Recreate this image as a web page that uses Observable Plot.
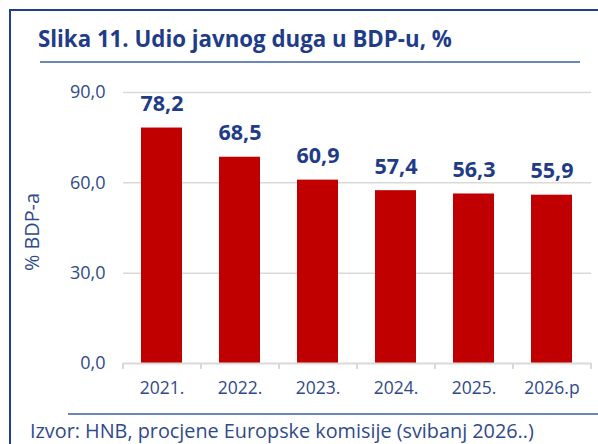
<!DOCTYPE html>
<html><head><meta charset="utf-8">
<script src="https://cdn.jsdelivr.net/npm/d3@7"></script>
<script src="https://cdn.jsdelivr.net/npm/@observablehq/plot@0.6"></script>
<style>
html,body{margin:0;padding:0;background:#fff;}
#wrap{position:relative;width:598px;height:444px;overflow:hidden;background:#fff;}
#chart{position:absolute;left:0;top:0;}
#deco{position:absolute;left:0;top:0;}
</style></head><body>
<div id="wrap"><div id="chart"></div><svg id="deco" width="598" height="444"></svg></div>
<script>
const titleText = "Slika 11. Udio javnog duga u BDP-u, %";
const sourceText = "Izvor: HNB, procjene Europske komisije (svibanj 2026..)";
const yAxisLabel = "% BDP-a";
const years = ["2021.", "2022.", "2023.", "2024.", "2025.", "2026.p"];
const debt = [78.2, 68.5, 60.9, 57.4, 56.3, 55.9];
const yTicks = [0, 30, 60, 90];

const fmt = v => v.toFixed(1).replace(".", ",");
const data = years.map((y, i) => ({year: y, value: debt[i]}));

const W = 598, H = 444, mL = 123, mR = 7, mT = 92, mB = 81;
const step = (W - mL - mR) / years.length;
const blue = "#1f3c88", tickBlue = "#2f4a8c", red = "#c00000", grid = "#d9d9d9";
const font = "'Open Sans', sans-serif";

const plot = Plot.plot({
  width: W, height: H,
  marginLeft: mL, marginRight: mR, marginTop: mT, marginBottom: mB,
  style: {fontFamily: font, background: "transparent", color: tickBlue},
  x: {domain: years, paddingInner: 0.474, paddingOuter: 0.237, axis: null},
  y: {domain: [0, 90], axis: null},
  marks: [
    Plot.ruleY(yTicks.filter(d => d > 0), {stroke: grid, strokeWidth: 1.5}),
    Plot.barY(data, {x: "year", y: "value", fill: red}),
    Plot.ruleY([0], {stroke: grid, strokeWidth: 2}),
    Plot.ruleX(years, {x: d => d, y1: 0, y2: 0, dx: -step / 2, insetBottom: -6, stroke: grid, strokeWidth: 2}),
    Plot.ruleX(years.slice(-1), {x: d => d, y1: 0, y2: 0, dx: step / 2, insetBottom: -6, stroke: grid, strokeWidth: 2}),
    Plot.text(data, {x: "year", y: "value", text: d => fmt(d.value), dy: -17, lineAnchor: "bottom",
      fill: blue, fontWeight: "bold", fontSize: 21.5}),
    Plot.axisY({ticks: yTicks, tickFormat: fmt, tickSize: 0, tickPadding: 18, label: null, fontSize: 18}),
    Plot.axisX({tickSize: 0, tickPadding: 18, label: null, fontSize: 17.5})
  ]
});
document.getElementById("chart").appendChild(plot);

const deco = d3.select("#deco");
deco.append("path").attr("d", "M10,444V10H598").attr("fill", "none").attr("stroke", "#1f3f8f").attr("stroke-width", 2);
deco.append("line").attr("x1", 40).attr("x2", 580).attr("y1", 62).attr("y2", 62).attr("stroke", "#3b5fa6").attr("stroke-width", 1.5);
deco.append("line").attr("x1", 68).attr("x2", 598).attr("y1", 414).attr("y2", 414).attr("stroke", "#3b5fa6").attr("stroke-width", 1.5);

function fit(sel, target) {
  let fs = +sel.attr("font-size");
  const w = sel.node().getComputedTextLength();
  if (w > 0) sel.attr("font-size", (fs * target / w).toFixed(2));
}
const t = deco.append("text").attr("x", 38).attr("y", 47).attr("font-family", font).attr("font-weight", "bold")
  .attr("font-size", 21).attr("fill", blue).text(titleText);
fit(t, 414);
const s = deco.append("text").attr("x", 30).attr("y", 438).attr("font-family", font)
  .attr("font-size", 18).attr("fill", tickBlue).text(sourceText);
fit(s, 504);
const yl = deco.append("text").attr("transform", "translate(31,232) rotate(-90)").attr("text-anchor", "middle")
  .attr("dominant-baseline", "central").attr("font-family", font).attr("font-size", 17)
  .attr("fill", tickBlue).text(yAxisLabel);
fit(yl, 78);
</script>
</body></html>
